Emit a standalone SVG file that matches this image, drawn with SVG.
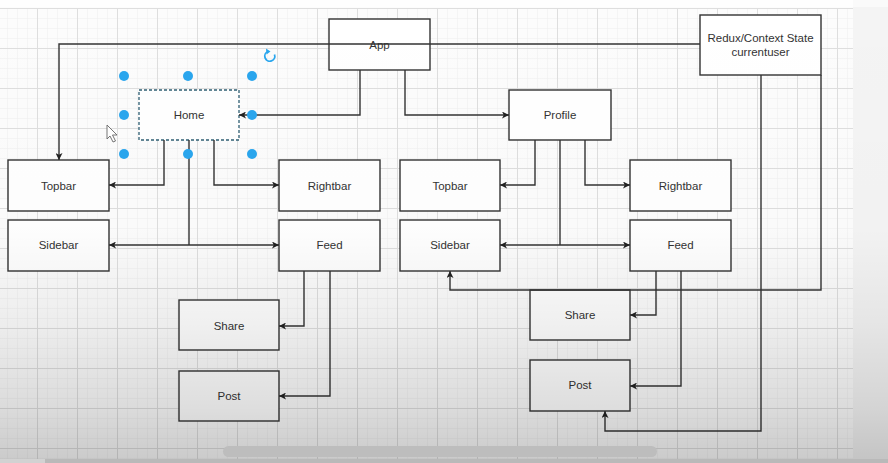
<svg xmlns="http://www.w3.org/2000/svg" width="888" height="463" viewBox="0 0 888 463">
  <defs>
    <pattern id="minor" x="7" y="8" width="10" height="10" patternUnits="userSpaceOnUse">
      <path d="M0 0H10M0 0V10" stroke="#eeeeee" stroke-width="1" fill="none"/>
    </pattern>
    <pattern id="major" x="37" y="8" width="40" height="40" patternUnits="userSpaceOnUse">
      <path d="M0 0.5H40M0.5 0V40" stroke="#dedede" stroke-width="1" fill="none"/>
    </pattern>
    <linearGradient id="shade" x1="0" y1="0" x2="0" y2="1">
      <stop offset="0" stop-color="#000" stop-opacity="0"/>
      <stop offset="0.5" stop-color="#000" stop-opacity="0.01"/>
      <stop offset="0.7" stop-color="#000" stop-opacity="0.06"/>
      <stop offset="0.88" stop-color="#000" stop-opacity="0.13"/>
      <stop offset="1" stop-color="#000" stop-opacity="0.2"/>
    </linearGradient>
    <marker id="arr" viewBox="0 0 10 10" refX="10" refY="5" markerWidth="7" markerHeight="7" markerUnits="userSpaceOnUse" orient="auto">
      <path d="M0 0L10 5L0 10L2.5 5Z" fill="#222"/>
    </marker>
  </defs>
  <style>
    .box { fill: #ffffff; stroke: #333333; stroke-width: 1.4; }
    .lbl { font-family: "Liberation Sans", Arial, sans-serif; font-size: 11.5px; fill: #333333; text-anchor: middle; dominant-baseline: central; }
    .con { fill: none; stroke: #333333; stroke-width: 1.4; }
    .handle { fill: #2aa6ee; }
  </style>

  <!-- background -->
  <rect x="0" y="0" width="888" height="463" fill="#fcfcfc"/>
  <rect x="0" y="8" width="853" height="455" fill="url(#minor)"/>
  <rect x="0" y="8" width="853" height="455" fill="url(#major)"/>
  <rect x="853" y="0" width="35" height="463" fill="#f4f4f4"/>

  <!-- nodes -->
  <g id="app"><rect class="box" x="329" y="19" width="101" height="51"/><text class="lbl" x="379.5" y="45">App</text></g>
  <g id="redux"><rect class="box" x="700" y="15" width="121" height="60"/><text class="lbl" x="760.5" y="38">Redux/Context State</text><text class="lbl" x="760.5" y="52">currentuser</text></g>
  <g id="home"><rect x="139" y="90" width="100" height="50" fill="#ffffff" stroke="#2f5f73" stroke-width="1.3" stroke-dasharray="3 2"/><text class="lbl" x="189" y="115">Home</text></g>
  <g id="profile"><rect class="box" x="509" y="90" width="102" height="50"/><text class="lbl" x="560" y="115">Profile</text></g>
  <g id="topbar-home"><rect class="box" x="8" y="160" width="101" height="51"/><text class="lbl" x="58.5" y="185.5">Topbar</text></g>
  <g id="rightbar-home"><rect class="box" x="279" y="160" width="101" height="51"/><text class="lbl" x="329.5" y="185.5">Rightbar</text></g>
  <g id="sidebar-home"><rect class="box" x="8" y="220" width="101" height="51"/><text class="lbl" x="58.5" y="245">Sidebar</text></g>
  <g id="feed-home"><rect class="box" x="279" y="220" width="101" height="51"/><text class="lbl" x="329.5" y="245">Feed</text></g>
  <g id="share-home"><rect class="box" x="179" y="300" width="100" height="50"/><text class="lbl" x="229" y="325.5">Share</text></g>
  <g id="post-home"><rect class="box" x="179" y="371" width="100" height="50"/><text class="lbl" x="229" y="395.5">Post</text></g>
  <g id="topbar-profile"><rect class="box" x="400" y="160" width="100" height="51"/><text class="lbl" x="450" y="185.5">Topbar</text></g>
  <g id="rightbar-profile"><rect class="box" x="630" y="160" width="101" height="51"/><text class="lbl" x="680.5" y="185.5">Rightbar</text></g>
  <g id="sidebar-profile"><rect class="box" x="400" y="220" width="100" height="51"/><text class="lbl" x="450" y="245">Sidebar</text></g>
  <g id="feed-profile"><rect class="box" x="630" y="220" width="101" height="51"/><text class="lbl" x="680.5" y="245">Feed</text></g>
  <g id="share-profile"><rect class="box" x="530" y="290" width="100" height="50"/><text class="lbl" x="580" y="315">Share</text></g>
  <g id="post-profile"><rect class="box" x="530" y="360" width="100" height="51"/><text class="lbl" x="580" y="385">Post</text></g>

  <!-- connectors -->
  <g id="connectors">
    <path class="con" d="M700 44H59V160" marker-end="url(#arr)"/>
    <path class="con" d="M360 70V115H239" marker-end="url(#arr)"/>
    <path class="con" d="M405 70V115H509" marker-end="url(#arr)"/>
    <path class="con" d="M164 140V185H109" marker-end="url(#arr)"/>
    <path class="con" d="M214 140V185H279" marker-end="url(#arr)"/>
    <path class="con" d="M189 140V245"/>
    <path class="con" d="M189 245H109" marker-end="url(#arr)"/>
    <path class="con" d="M189 245H279" marker-end="url(#arr)"/>
    <path class="con" d="M304 271V326H279" marker-end="url(#arr)"/>
    <path class="con" d="M330 271V396H279" marker-end="url(#arr)"/>
    <path class="con" d="M535 140V185H500" marker-end="url(#arr)"/>
    <path class="con" d="M585 140V185H630" marker-end="url(#arr)"/>
    <path class="con" d="M560 140V245"/>
    <path class="con" d="M560 245H500" marker-end="url(#arr)"/>
    <path class="con" d="M560 245H630" marker-end="url(#arr)"/>
    <path class="con" d="M656 271V315H630" marker-end="url(#arr)"/>
    <path class="con" d="M681 271V386H630" marker-end="url(#arr)"/>
    <path class="con" d="M821 75V290H450V271" marker-end="url(#arr)"/>
    <path class="con" d="M761 75V431H605V411" marker-end="url(#arr)"/>
  </g>

  <!-- selection handles -->
  <g id="selection">
    <circle class="handle" cx="124" cy="76" r="5"/>
    <circle class="handle" cx="188" cy="76" r="5"/>
    <circle class="handle" cx="252" cy="76" r="5"/>
    <circle class="handle" cx="124" cy="115" r="5"/>
    <circle class="handle" cx="252" cy="115" r="5"/>
    <circle class="handle" cx="124" cy="154" r="5"/>
    <circle class="handle" cx="188" cy="154" r="5"/>
    <circle class="handle" cx="252" cy="154" r="5"/>
    <path d="M274.5 54.5A5 5 0 1 1 268 51.5" fill="none" stroke="#2aa6ee" stroke-width="1.8"/>
    <path d="M266 48.5L270.5 51.5L266.5 54.5Z" fill="#2aa6ee"/>
  </g>
  <path d="M107 125V139L110 136L113 142L115.5 141L112.5 135H117Z" fill="#ffffff" stroke="#666666" stroke-width="0.9"/>

  <!-- screen shading and scrollbar -->
  <rect x="0" y="0" width="888" height="463" fill="url(#shade)"/>
  <rect x="0" y="0" width="888" height="7" fill="#ffffff" opacity="0.5"/>
  <rect x="223" y="446" width="434" height="11" rx="5.5" fill="#bdbdbd"/>
  <rect x="0" y="459" width="888" height="4" fill="#b9b9b9"/>
  <rect x="0" y="459" width="45" height="4" fill="#d2d2d2"/>
</svg>
